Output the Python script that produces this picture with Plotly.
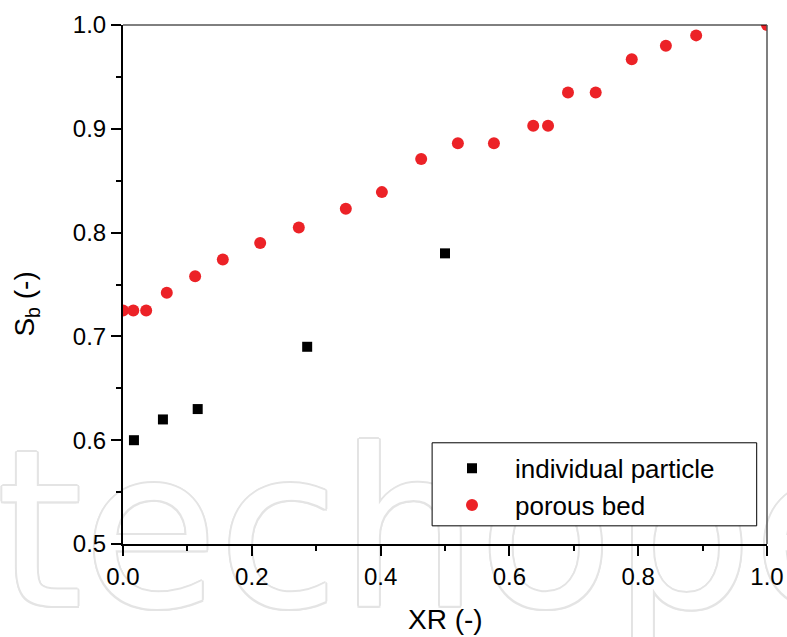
import plotly.graph_objects as go

# Individual particle measurements
xr_particle = [0.017, 0.062, 0.116, 0.286, 0.500]
sb_particle = [0.600, 0.620, 0.630, 0.690, 0.780]

# Porous bed measurements
xr_bed = [0.000, 0.016, 0.036, 0.068, 0.112, 0.155, 0.213, 0.273, 0.346, 0.402,
          0.463, 0.520, 0.576, 0.637, 0.660, 0.691, 0.734, 0.790, 0.843, 0.890, 1.000]
sb_bed = [0.725, 0.725, 0.725, 0.742, 0.758, 0.774, 0.790, 0.805, 0.823, 0.839,
          0.871, 0.886, 0.886, 0.903, 0.903, 0.935, 0.935, 0.967, 0.980, 0.990, 1.000]

x_ticks = [0.0, 0.2, 0.4, 0.6, 0.8, 1.0]
y_ticks = [0.5, 0.6, 0.7, 0.8, 0.9, 1.0]

FONT = "Liberation Sans, Arial, sans-serif"
RED = "#EC2227"
WM = "#e4e4e4"

W, H = 787, 637
ML, MR, MT, MB = 123, 20, 25, 93
plot_w, plot_h = W - ML - MR, H - MT - MB

fig = go.Figure()

# faint outlined watermark behind the data: grey copies nudged around a white copy
wm_x, wm_y = 0.604, 0.599
nudges = [(2, 0), (-2, 0), (0, 2), (0, -2), (1.5, 1.5), (-1.5, 1.5), (1.5, -1.5), (-1.5, -1.5)]
wm_font = dict(family="DejaVu Sans", size=220)
fig.add_trace(go.Scatter(
    x=[wm_x + dx / plot_w for dx, dy in nudges],
    y=[wm_y + dy * 0.5 / plot_h for dx, dy in nudges],
    mode="text", text=["techopen"] * len(nudges), textposition="bottom center",
    textfont=dict(color=WM, **wm_font),
    cliponaxis=False, showlegend=False, hoverinfo="skip"))
fig.add_trace(go.Scatter(
    x=[wm_x], y=[wm_y], mode="text", text=["techopen"], textposition="bottom center",
    textfont=dict(color="white", **wm_font),
    cliponaxis=False, showlegend=False, hoverinfo="skip"))

fig.add_trace(go.Scatter(
    x=xr_particle, y=sb_particle, mode="markers", name="individual particle",
    marker=dict(symbol="square", size=10, color="black", line=dict(width=0))))
fig.add_trace(go.Scatter(
    x=xr_bed, y=sb_bed, mode="markers", name="porous bed",
    marker=dict(symbol="circle", size=12, color=RED, line=dict(width=0))))

axis_common = dict(
    showgrid=False, zeroline=False, showline=True, linecolor="black", linewidth=2,
    ticks="outside", ticklen=10, tickwidth=2, tickcolor="black", automargin=False,
    tickfont=dict(family=FONT, size=24, color="black"), tickformat=".1f",
)
fig.update_xaxes(range=[0, 1], tickvals=x_ticks, **axis_common,
                 minor=dict(dtick=0.1, ticks="outside", ticklen=5, tickwidth=2, tickcolor="black"))
fig.update_yaxes(range=[0.5, 1.0], tickvals=y_ticks, **axis_common,
                 minor=dict(dtick=0.05, ticks="outside", ticklen=5, tickwidth=2, tickcolor="black"))

# top and right frame lines
fig.add_shape(type="line", xref="paper", yref="paper", x0=0, x1=1, y0=1, y1=1,
              line=dict(color="black", width=1))
fig.add_shape(type="line", xref="paper", yref="paper", x0=1, x1=1, y0=0, y1=1,
              line=dict(color="#555555", width=1.5))

# legend frame
fig.add_shape(type="rect", xref="paper", yref="paper", x0=0.480, x1=0.984, y0=0.035, y1=0.195,
              line=dict(color="black", width=1), fillcolor="white", layer="above")

fig.add_annotation(text="XR (-)", xref="paper", yref="paper", x=0.5, y=-0.145,
                   xanchor="center", yanchor="middle", showarrow=False,
                   font=dict(family=FONT, size=28, color="black"))
fig.add_annotation(text="S<sub>b</sub> (-)", xref="paper", yref="paper", x=-0.15, y=0.462,
                   xanchor="center", yanchor="middle", showarrow=False, textangle=-90,
                   font=dict(family=FONT, size=28, color="black"))

fig.update_layout(
    width=W, height=H,
    margin=dict(l=ML, r=MR, t=MT, b=MB),
    paper_bgcolor="white", plot_bgcolor="white",
    legend=dict(x=(429 - ML) / plot_w, y=0.191, xanchor="left", yanchor="top",
                bgcolor="rgba(0,0,0,0)", borderwidth=0,
                font=dict(family=FONT, size=26, color="black"),
                itemwidth=76, tracegroupgap=0),
    showlegend=True,
)

fig.write_html("out.html")
